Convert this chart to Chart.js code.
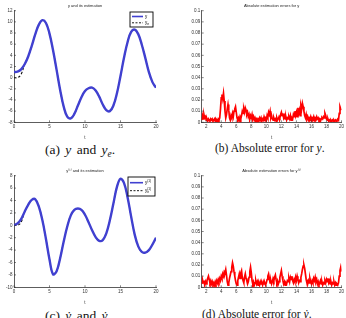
<!DOCTYPE html>
<html>
<head>
<meta charset="utf-8">
<script src="https://cdn.jsdelivr.net/npm/chart.js@4.4.1/dist/chart.umd.min.js"></script>
<style>
  html, body { margin: 0; padding: 0; background: #fff; }
  #fig { position: relative; width: 346px; height: 318px; overflow: hidden; }
  #fig canvas { position: absolute; }
  .cap { position: absolute; font-family: "Liberation Serif", "DejaVu Serif", serif; color: #111; white-space: nowrap; line-height: 1; }
  .cap sub { font-size: 70%; vertical-align: -0.3em; line-height: 0; }
</style>
</head>
<body>
<div id="fig">
  <canvas id="cA" width="170" height="140" style="left:0;top:0"></canvas>
  <canvas id="cB" width="166" height="140" style="left:180px;top:0"></canvas>
  <canvas id="cC" width="170" height="140" style="left:0;top:165px"></canvas>
  <canvas id="cD" width="166" height="140" style="left:180px;top:165px"></canvas>
  <div class="cap" style="left:45px;top:143px;font-size:13.5px;word-spacing:2px">(a) <i>y</i> and <i>y<sub>e</sub></i>.</div>
  <div class="cap" style="left:215px;top:143px;font-size:11.5px">(b) Absolute error for <i>y</i>.</div>
  <div class="cap" style="left:45px;top:309px;font-size:13.5px;word-spacing:2px">(c) <i>ẏ</i> and <i>ẏ<sub>e</sub></i>.</div>
  <div class="cap" style="left:202px;top:309px;font-size:11.5px">(d) Absolute error for <i>ẏ</i>.</div>
</div>
<script>
// ---- data ----
// smooth signals, sampled every 0.5 s from t = 0
var curveT0 = 0, curveDt = 0.5;
var yVals = [1.0, 1.1, 1.5, 2.4, 3.8, 5.7, 7.8, 9.5, 10.3, 9.8,
             7.9, 4.9, 1.4, -2.2, -5.2, -7.0, -7.3, -6.5, -5.0, -3.5,
             -2.4, -1.9, -1.8, -2.3, -3.4, -4.8, -5.8, -6.0, -5.0, -2.8,
             0.3, 3.6, 6.4, 8.2, 8.6, 7.8, 5.9, 3.5, 1.0, -0.8, -1.8];
var yEstHead = [0, 0, 0.6];          // estimate before it locks on
var dyVals = [0, 0.3, 1.0, 2.2, 3.3, 4.1, 4.2, 3.0, 0.8, -2.2,
              -5.5, -7.9, -7.4, -5.3, -2.6, -0.2, 1.6, 2.5, 2.7, 2.5,
              1.7, 0.5, -0.8, -1.9, -2.5, -2.4, -1.3, 0.8, 3.5, 6.2,
              7.5, 6.8, 4.5, 1.4, -1.5, -3.4, -4.3, -4.4, -4.0, -3.1, -2.0];
var dyEstHead = [0, 0, 0.5];

// absolute errors, sampled every 0.1 s from t = 1.4
var errT0 = 1.4, errDt = 0.1;
var errY = [
  0.002, 0.006, 0.003, 0.007, 0.004, 0.005,
  0.002, 0.003, 0.001, 0.003, 0.002, 0.001, 0.003, 0.002, 0.003, 0.001,
  0.002, 0.003, 0.001, 0.003, 0.002, 0.001, 0.003, 0.002, 0.004, 0.012,
  0.022, 0.025, 0.021, 0.026, 0.019, 0.010, 0.004, 0.007, 0.012, 0.016,
  0.011, 0.004, 0.002, 0.006, 0.004, 0.008, 0.005, 0.010, 0.012, 0.014,
  0.009, 0.004, 0.002, 0.004, 0.002, 0.005, 0.003, 0.006, 0.010, 0.008,
  0.012, 0.009, 0.013, 0.011, 0.007, 0.009, 0.005, 0.007, 0.003, 0.006,
  0.004, 0.007, 0.003, 0.005, 0.002, 0.004, 0.002, 0.003, 0.001, 0.003,
  0.002, 0.004, 0.002, 0.004, 0.001, 0.003, 0.002, 0.005, 0.003, 0.004,
  0.002, 0.006, 0.004, 0.009, 0.007, 0.010, 0.004, 0.006, 0.003, 0.002,
  0.004, 0.002, 0.003, 0.001, 0.004, 0.002, 0.003, 0.005, 0.004, 0.007,
  0.009, 0.006, 0.008, 0.004, 0.006, 0.003, 0.005, 0.002, 0.004, 0.003,
  0.005, 0.003, 0.006, 0.002, 0.004, 0.003, 0.007, 0.005, 0.010, 0.006,
  0.009, 0.005, 0.013, 0.008, 0.011, 0.006, 0.015, 0.012, 0.017, 0.014,
  0.010, 0.006, 0.004, 0.007, 0.003, 0.005, 0.002, 0.004, 0.003, 0.005,
  0.002, 0.004, 0.003, 0.005, 0.002, 0.004, 0.003, 0.005, 0.003, 0.004,
  0.002, 0.003, 0.001, 0.003, 0.004, 0.003, 0.005, 0.004, 0.008, 0.006,
  0.003, 0.002, 0.003, 0.001, 0.002, 0.001, 0.002, 0.001, 0.002, 0.001,
  0.002, 0.001, 0.002, 0.001, 0.002, 0.003, 0.002, 0.008, 0.014, 0.012,
  0.011
];
var errDy = [
  0.003, 0.007, 0.004, 0.006, 0.002, 0.005,
  0.003, 0.006, 0.008, 0.010, 0.007, 0.004, 0.006, 0.003, 0.005, 0.002,
  0.004, 0.002, 0.005, 0.003, 0.006, 0.004, 0.007, 0.005, 0.008, 0.006,
  0.010, 0.008, 0.012, 0.010, 0.014, 0.013, 0.016, 0.011, 0.005, 0.002,
  0.004, 0.008, 0.011, 0.014, 0.018, 0.022, 0.019, 0.014, 0.010, 0.006,
  0.003, 0.002, 0.006, 0.009, 0.012, 0.008, 0.013, 0.015, 0.009, 0.006,
  0.004, 0.009, 0.012, 0.008, 0.006, 0.003, 0.005, 0.009, 0.014, 0.018,
  0.013, 0.006, 0.003, 0.005, 0.002, 0.004, 0.006, 0.003, 0.005, 0.002,
  0.004, 0.002, 0.005, 0.003, 0.004, 0.002, 0.005, 0.003, 0.004, 0.002,
  0.004, 0.007, 0.010, 0.012, 0.008, 0.004, 0.006, 0.003, 0.005, 0.008,
  0.006, 0.009, 0.011, 0.007, 0.004, 0.006, 0.003, 0.005, 0.009, 0.012,
  0.015, 0.010, 0.006, 0.003, 0.005, 0.002, 0.004, 0.003, 0.006, 0.005,
  0.008, 0.005, 0.009, 0.007, 0.010, 0.006, 0.004, 0.007, 0.005, 0.009,
  0.006, 0.010, 0.007, 0.004, 0.006, 0.005, 0.009, 0.012, 0.016, 0.019,
  0.020, 0.017, 0.012, 0.007, 0.004, 0.003, 0.006, 0.004, 0.008, 0.005,
  0.003, 0.006, 0.004, 0.008, 0.006, 0.009, 0.005, 0.007, 0.003, 0.005,
  0.002, 0.004, 0.006, 0.003, 0.005, 0.002, 0.004, 0.003, 0.006, 0.004,
  0.007, 0.005, 0.008, 0.004, 0.006, 0.003, 0.005, 0.002, 0.004, 0.003,
  0.005, 0.002, 0.004, 0.002, 0.003, 0.002, 0.004, 0.010, 0.015, 0.018,
  0.014
];

// ticks
var xTicksCurve = [0, 5, 10, 15, 20];
var yTicksA = [-8, -6, -4, -2, 0, 2, 4, 6, 8, 10, 12];
var yTicksC = [-10, -8, -6, -4, -2, 0, 2, 4, 6, 8];
var xTicksErr = [2, 4, 6, 8, 10, 12, 14, 16, 18, 20];
var yTicksErr = [0, 0.01, 0.02, 0.03, 0.04, 0.05, 0.06, 0.07, 0.08, 0.09, 0.1];

// ---- helpers ----
var AXIS = '#333';
var BLUE = '#4040d0';
var TICK_FONT = { family: 'Liberation Sans, Arial, sans-serif', size: 4.5 };

function toPoints(t0, dt, vals) {
  return vals.map(function (v, i) { return { x: Math.round((t0 + i * dt) * 10) / 10, y: v }; });
}

// MATLAB-style inward tick marks
var inTicks = {
  id: 'inTicks',
  afterDraw: function (chart) {
    var c = chart.ctx, a = chart.chartArea, sx = chart.scales.x, sy = chart.scales.y;
    c.save();
    c.strokeStyle = AXIS; c.lineWidth = 0.6;
    sx.ticks.forEach(function (t) {
      var px = sx.getPixelForValue(t.value);
      c.beginPath(); c.moveTo(px, a.bottom); c.lineTo(px, a.bottom - 2); c.stroke();
    });
    sy.ticks.forEach(function (t) {
      var py = sy.getPixelForValue(t.value);
      c.beginPath(); c.moveTo(a.left, py); c.lineTo(a.left + 2, py); c.stroke();
    });
    c.restore();
  }
};

// boxed legend inside the axes, top right
function boxLegend(box, labels) {
  return {
    id: 'boxLegend',
    afterDraw: function (chart) {
      var c = chart.ctx, a = chart.chartArea;
      var x0 = a.right - box.r - box.w, y0 = a.top + box.t;
      c.save();
      c.fillStyle = '#fff'; c.fillRect(x0, y0, box.w, box.h);
      c.strokeStyle = '#000'; c.lineWidth = 0.9; c.strokeRect(x0, y0, box.w, box.h);
      var rows = [y0 + box.h * 0.3, y0 + box.h * 0.72];
      rows.forEach(function (ry, i) {
        c.beginPath(); c.moveTo(x0 + 2, ry); c.lineTo(x0 + 2 + box.sw, ry);
        if (i === 0) { c.strokeStyle = BLUE; c.lineWidth = 1.6; c.setLineDash([]); }
        else { c.strokeStyle = '#000'; c.lineWidth = 0.9; c.setLineDash([2, 1.5]); }
        c.stroke();
        c.setLineDash([]);
        var tx = x0 + box.sw + 4;
        c.fillStyle = '#000'; c.textBaseline = 'middle';
        labels[i].forEach(function (p) {
          c.font = (p.s || 4.5) + 'px Liberation Sans, Arial, sans-serif';
          c.fillText(p.t, tx + (p.dx || 0), ry + (p.dy || 0));
          if (!p.stay) tx += c.measureText(p.t).width + (p.dx || 0);
        });
      });
      c.restore();
    }
  };
}

function baseScales(xMin, xMax, xTicks, yMin, yMax, yTicks, yWidth, fmtY) {
  return {
    x: {
      type: 'linear', min: xMin, max: xMax,
      afterBuildTicks: function (s) { s.ticks = xTicks.map(function (v) { return { value: v }; }); },
      afterFit: function (s) { s.height = 17.7; },
      grid: { display: true, drawOnChartArea: false, drawTicks: false },
      border: { display: true, color: AXIS, width: 0.8 },
      ticks: { font: TICK_FONT, color: AXIS, padding: 2, maxRotation: 0, autoSkip: false },
      title: { display: true, text: 't', font: { family: TICK_FONT.family, size: 4.5 }, color: AXIS, padding: { top: 1, bottom: 0 } }
    },
    y: {
      type: 'linear', min: yMin, max: yMax,
      afterBuildTicks: function (s) { s.ticks = yTicks.map(function (v) { return { value: v }; }); },
      afterFit: function (s) { s.width = yWidth; },
      grid: { display: true, drawOnChartArea: false, drawTicks: false },
      border: { display: true, color: AXIS, width: 0.8 },
      ticks: { font: TICK_FONT, color: AXIS, padding: 1.5, autoSkip: false, callback: fmtY }
    }
  };
}

function titleOpts(text) {
  return {
    display: true, text: text, fullSize: false, color: '#222',
    font: { family: TICK_FONT.family, size: 4, weight: 'normal' },
    padding: { top: 3, bottom: 2.9 }
  };
}

function curveChart(id, vals, estHead, yMin, yMax, yTicks, title, legBox, legLabels) {
  var est = estHead.concat(vals.slice(estHead.length));
  return new Chart(document.getElementById(id), {
    type: 'line',
    data: {
      datasets: [
        { data: toPoints(curveT0, curveDt, vals), borderColor: BLUE, borderWidth: 2.4, pointRadius: 0, tension: 0.4 },
        { data: toPoints(curveT0, curveDt, est), borderColor: '#111', borderWidth: 1.1, borderDash: [2.5, 1.8], pointRadius: 0, tension: 0.4 }
      ]
    },
    options: {
      responsive: false, animation: false, events: [],
      layout: { padding: { left: 0, right: 14, top: 0, bottom: 0 } },
      plugins: { legend: { display: false }, tooltip: { enabled: false }, title: titleOpts(title) },
      scales: baseScales(0, 20, xTicksCurve, yMin, yMax, yTicks, 14, function (v) { return String(v); })
    },
    plugins: [inTicks, boxLegend(legBox, legLabels)]
  });
}

function errChart(id, vals, title) {
  return new Chart(document.getElementById(id), {
    type: 'line',
    data: {
      datasets: [
        { data: toPoints(errT0, errDt, vals), borderColor: '#ff0000', borderWidth: 1.7, pointRadius: 0, tension: 0 }
      ]
    },
    options: {
      responsive: false, animation: false, events: [],
      layout: { padding: { left: 0, right: 4.3, top: 0, bottom: 0 } },
      plugins: { legend: { display: false }, tooltip: { enabled: false }, title: titleOpts(title) },
      scales: baseScales(errT0, 20, xTicksErr, 0, 0.1, yTicksErr, 21.7, function (v) {
        return v === 0 ? '0' : String(Math.round(v * 100) / 100);
      })
    },
    plugins: [inTicks]
  });
}

curveChart('cA', yVals, yEstHead, -8, 12, yTicksA, 'y and its estimation',
  { w: 23, h: 15, r: 3, t: 1.3, sw: 11 },
  [[{ t: 'y' }], [{ t: 'y' }, { t: 'e', s: 3.2, dy: 1.2 }]]);
curveChart('cC', dyVals, dyEstHead, -10, 8, yTicksC, 'y\u207D\u00B9\u207E and its estimation',
  { w: 27, h: 19, r: 1, t: 1.3, sw: 13 },
  [[{ t: 'y' }, { t: '(1)', s: 3.2, dy: -1.5 }],
   [{ t: 'y' }, { t: '(1)', s: 3.2, dy: -1.5, stay: true }, { t: 'e', s: 3.2, dy: 1.5 }]]);
errChart('cB', errY, 'Absolute estimation errors for y');
errChart('cD', errDy, 'Absolute estimation errors for y\u207D\u00B9\u207E');
</script>
</body>
</html>
